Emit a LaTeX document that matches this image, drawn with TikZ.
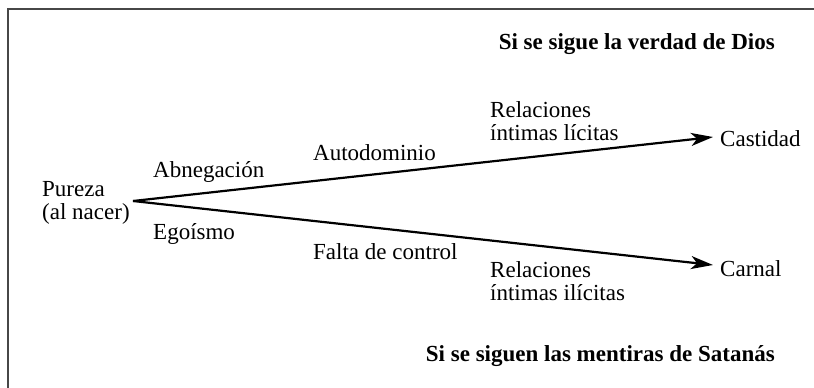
\documentclass[tikz,border=0pt]{standalone}
\usepackage{fontspec}
\setmainfont{Liberation Serif}
\newcommand\fsz{23}
\usetikzlibrary{arrows.meta}
\begin{document}
\begin{tikzpicture}[x=1pt,y=-1pt,
  lbl/.style={inner sep=0pt, anchor=base west, align=left,
    font=\fontsize{\fsz}{23}\selectfont},
  ttl/.style={inner sep=0pt, anchor=base east,
    font=\fontsize{\fsz}{23}\selectfont\bfseries},
  path/.style={line width=2.2pt, -{Stealth[length=22pt,width=13pt,inset=6pt]}},
  frame/.style={line width=2pt, draw=black!72}]
\useasboundingbox (0,0) rectangle (814,388);
\draw[frame] (8,388) -- (8,9) -- (814,9);

\node[ttl] (dios) at (775,49) {Si se sigue la verdad de Dios};
\node[ttl] (satan) at (775,361) {Si se siguen las mentiras de Satanás};

\node[lbl] (pureza) at (42,219) {Pureza\\(al nacer)};
\node[lbl] (abneg) at (153,177) {Abnegación};
\node[lbl] (ego) at (153,239) {Egoísmo};
\node[lbl] (auto) at (313,160) {Autodominio};
\node[lbl] (falta) at (313,259) {Falta de control};
\node[lbl] (rel1) at (490,140) {Relaciones\\íntimas lícitas};
\node[lbl] (rel2) at (490,300) {Relaciones\\íntimas ilícitas};
\node[lbl] (cast) at (720,146) {Castidad};
\node[lbl] (carn) at (720,276) {Carnal};

\coordinate (apex) at (133,201);
\coordinate (tipC) at (713,137);
\coordinate (tipK) at (713,265);
\draw[path] (apex) -- (tipC);
\draw[path] (apex) -- (tipK);
\end{tikzpicture}
\end{document}
